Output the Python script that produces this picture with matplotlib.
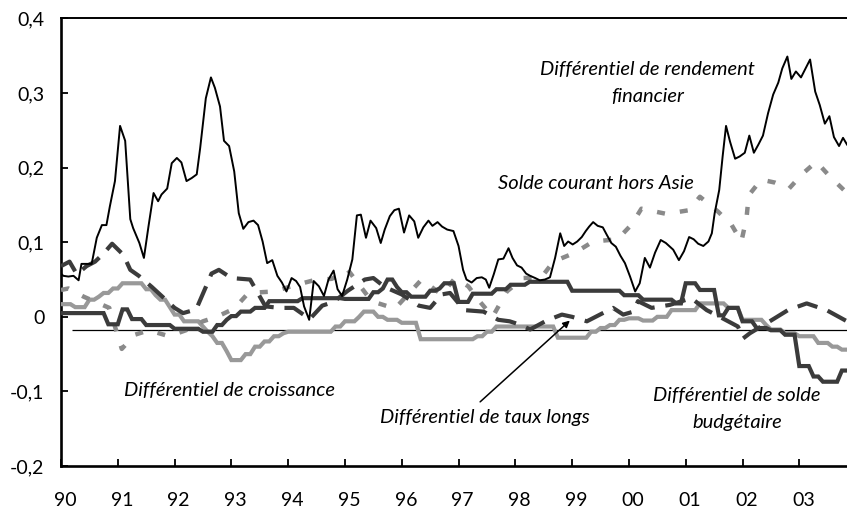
import numpy as np
import matplotlib
matplotlib.use("Agg")
import matplotlib.pyplot as plt
from matplotlib.transforms import ScaledTranslation

plt.rcParams['font.family'] = ['Lato', 'DejaVu Sans']

# ---------------- data ----------------
# Différentiel de rendement financier (monthly-ish vertices)
rend_x = [1990.00, 1990.04, 1990.13, 1990.22, 1990.31, 1990.36, 1990.54, 1990.63, 1990.72, 1990.80,
          1990.86, 1990.95, 1991.04, 1991.13, 1991.22, 1991.27, 1991.38, 1991.46, 1991.54, 1991.63,
          1991.71, 1991.77, 1991.87, 1991.95, 1992.04, 1992.12, 1992.21, 1992.30, 1992.39, 1992.45,
          1992.55, 1992.64, 1992.71, 1992.80, 1992.87, 1992.96, 1993.05, 1993.13, 1993.21, 1993.30,
          1993.39, 1993.47, 1993.55, 1993.63, 1993.72, 1993.81, 1993.89, 1993.97, 1994.06, 1994.14,
          1994.21, 1994.28, 1994.37, 1994.45, 1994.54, 1994.63, 1994.71, 1994.80, 1994.87, 1994.95,
          1995.04, 1995.13, 1995.21, 1995.28, 1995.37, 1995.45, 1995.55, 1995.63, 1995.70, 1995.79,
          1995.87, 1995.95, 1996.04, 1996.13, 1996.22, 1996.29, 1996.38, 1996.47, 1996.54, 1996.63,
          1996.71, 1996.80, 1996.91, 1997.00, 1997.08, 1997.14, 1997.23, 1997.32, 1997.41, 1997.48,
          1997.54, 1997.62, 1997.70, 1997.79, 1997.88, 1997.95, 1998.03, 1998.11, 1998.19, 1998.26,
          1998.35, 1998.43, 1998.52, 1998.61, 1998.70, 1998.79, 1998.86, 1998.93, 1999.01, 1999.09,
          1999.17, 1999.24, 1999.30, 1999.37, 1999.45, 1999.54, 1999.61, 1999.69, 1999.77, 1999.85,
          1999.93, 2000.02, 2000.11, 2000.19, 2000.28, 2000.37, 2000.46, 2000.56, 2000.65, 2000.78,
          2000.88, 2000.97, 2001.06, 2001.14, 2001.22, 2001.31, 2001.40, 2001.46, 2001.51, 2001.59,
          2001.65, 2001.71, 2001.78, 2001.87, 2001.95, 2002.04, 2002.12, 2002.20, 2002.28, 2002.36,
          2002.45, 2002.54, 2002.63, 2002.70, 2002.79, 2002.86, 2002.94, 2003.03, 2003.11, 2003.19,
          2003.28, 2003.36, 2003.45, 2003.53, 2003.61, 2003.70, 2003.77, 2003.84]
rend_y = [0.058, 0.055, 0.054, 0.055, 0.049, 0.071, 0.071, 0.106, 0.123, 0.123,
          0.148, 0.182, 0.256, 0.236, 0.131, 0.119, 0.099, 0.079, 0.121, 0.166,
          0.155, 0.164, 0.172, 0.206, 0.213, 0.207, 0.182, 0.186, 0.191, 0.226,
          0.293, 0.321, 0.307, 0.282, 0.236, 0.229, 0.195, 0.139, 0.118, 0.127,
          0.129, 0.123, 0.101, 0.072, 0.076, 0.055, 0.046, 0.034, 0.052, 0.048,
          0.040, 0.014, -0.004, 0.048, 0.041, 0.028, 0.050, 0.062, 0.037, 0.028,
          0.050, 0.077, 0.136, 0.137, 0.106, 0.129, 0.119, 0.099, 0.117, 0.135,
          0.143, 0.145, 0.113, 0.136, 0.128, 0.106, 0.120, 0.129, 0.122, 0.127,
          0.121, 0.117, 0.115, 0.095, 0.063, 0.050, 0.046, 0.052, 0.053, 0.050,
          0.039, 0.057, 0.077, 0.078, 0.092, 0.079, 0.069, 0.066, 0.058, 0.055,
          0.052, 0.049, 0.050, 0.053, 0.079, 0.112, 0.095, 0.101, 0.097, 0.101,
          0.107, 0.115, 0.121, 0.127, 0.122, 0.120, 0.110, 0.099, 0.094, 0.082,
          0.072, 0.054, 0.034, 0.045, 0.079, 0.066, 0.086, 0.103, 0.099, 0.090,
          0.076, 0.088, 0.107, 0.104, 0.098, 0.095, 0.101, 0.112, 0.139, 0.170,
          0.215, 0.256, 0.235, 0.212, 0.215, 0.220, 0.243, 0.220, 0.231, 0.243,
          0.273, 0.298, 0.314, 0.333, 0.349, 0.319, 0.329, 0.321, 0.333, 0.345,
          0.302, 0.284, 0.259, 0.269, 0.241, 0.229, 0.240, 0.231]

# Solde courant hors Asie
solde_x = [1990.00, 1990.13, 1990.40, 1990.85, 1991.07, 1991.30, 1991.55, 1991.90, 1992.20, 1992.50,
           1992.74, 1993.05, 1993.30, 1993.75, 1994.10, 1994.45, 1994.77, 1995.05, 1995.47, 1995.88,
           1996.35, 1996.70, 1996.94, 1997.17, 1997.38, 1997.60, 1997.85, 1998.14, 1998.46, 1998.67,
           1999.05, 1999.37, 1999.80, 2000.05, 2000.22, 2000.66, 2001.06, 2001.25, 2001.57, 2001.81,
           2001.98, 2002.07, 2002.11, 2002.33, 2002.57, 2002.82, 2003.06, 2003.30, 2003.54, 2003.84]
solde_y = [0.036, 0.038, 0.027, 0.012, -0.043, -0.024, -0.018, -0.026, -0.018, -0.006,
           0.000, 0.011, 0.032, 0.034, 0.042, 0.049, 0.051, 0.063, 0.021, 0.011,
           0.050, 0.030, 0.052, 0.041, 0.020, 0.000, 0.034, 0.052, 0.053, 0.074,
           0.086, 0.101, 0.104, 0.124, 0.145, 0.138, 0.143, 0.161, 0.141, 0.123,
           0.101, 0.132, 0.163, 0.184, 0.180, 0.172, 0.192, 0.208, 0.188, 0.166]

# Différentiel de taux longs
taux_x = [1990.00, 1990.15, 1990.28, 1990.45, 1990.60, 1990.75, 1990.90, 1991.10, 1991.22, 1991.37,
          1991.60, 1992.00, 1992.15, 1992.38, 1992.55, 1992.65, 1992.78, 1993.00, 1993.33, 1993.60,
          1993.85, 1994.10, 1994.38, 1994.60, 1994.80, 1995.05, 1995.35, 1995.50, 1995.70, 1996.00,
          1996.30, 1996.50, 1996.70, 1996.85, 1997.10, 1997.44, 1997.70, 1997.90, 1998.10, 1998.26,
          1998.55, 1998.82, 1999.00, 1999.26, 1999.49, 1999.72, 1999.90, 2000.08, 2000.16, 2000.40,
          2000.72, 2001.10, 2001.37, 2001.60, 2001.92, 2002.01, 2002.13, 2002.48, 2002.80, 2003.13,
          2003.48, 2003.84]
taux_y = [0.068, 0.074, 0.057, 0.068, 0.074, 0.085, 0.098, 0.083, 0.063, 0.055,
          0.040, 0.012, 0.005, 0.010, 0.040, 0.058, 0.063, 0.052, 0.050, 0.014,
          0.012, 0.012, -0.003, 0.015, 0.020, 0.035, 0.050, 0.052, 0.040, 0.030,
          0.015, 0.012, 0.030, 0.032, 0.009, 0.007, -0.004, -0.006, -0.011, -0.017,
          -0.005, 0.003, 0.000, -0.006, 0.003, 0.012, 0.003, 0.007, 0.021, 0.012,
          0.016, 0.025, 0.009, 0.000, -0.013, -0.029, -0.022, -0.006, 0.009, 0.018,
          0.009, -0.006]

# Différentiel de croissance (step levels: start date, level)
crois_start = [1990.00, 1990.25, 1990.45, 1990.60, 1990.75, 1990.90, 1991.05, 1991.50, 1991.63, 1991.75,
               1991.87, 1992.00, 1992.12, 1992.45, 1992.55, 1992.65, 1992.75, 1992.85, 1993.00, 1993.25,
               1993.40, 1993.55, 1993.70, 1993.87, 1994.00, 1994.80, 1995.00, 1995.20, 1995.30, 1995.55,
               1995.75, 1996.00, 1996.30, 1997.30, 1997.45, 1997.60, 1998.70, 1999.30, 1999.45, 1999.60,
               1999.80, 2000.00, 2000.25, 2000.45, 2000.70, 2001.25, 2001.75, 2002.00, 2002.35, 2002.50,
               2002.75, 2003.00, 2003.30, 2003.55, 2003.72]
crois_level = [0.017, 0.013, 0.023, 0.027, 0.032, 0.038, 0.045, 0.037, 0.029, 0.023,
               0.013, 0.003, -0.006, -0.013, -0.020, -0.026, -0.035, -0.046, -0.058, -0.050,
               -0.040, -0.033, -0.026, -0.022, -0.020, -0.013, -0.006, 0.000, 0.007, 0.000,
               -0.004, -0.008, -0.030, -0.026, -0.020, -0.013, -0.028, -0.020, -0.015, -0.011,
               -0.004, -0.002, -0.005, 0.000, 0.009, 0.018, 0.012, -0.004, -0.011, -0.017,
               -0.022, -0.026, -0.035, -0.040, -0.044]

# Différentiel de solde budgétaire (step levels: start date, level)
budg_start = [1990.00, 1990.78, 1991.02, 1991.25, 1991.42, 1992.00, 1992.50, 1992.72, 1992.85, 1993.00,
              1993.15, 1993.35, 1993.65, 1994.20, 1995.00, 1995.45, 1995.60, 1995.75, 1995.85, 1996.00,
              1996.10, 1996.45, 1996.65, 1996.75, 1996.95, 1997.22, 1997.60, 1997.90, 1998.20, 1999.00,
              1999.90, 2000.25, 2000.80, 2000.98, 2001.20, 2001.55, 2001.70, 2002.00, 2002.17, 2002.45,
              2002.75, 2003.00, 2003.20, 2003.35, 2003.72]
budg_level = [0.005, -0.010, 0.010, -0.003, -0.011, -0.016, -0.020, -0.011, -0.004, 0.001,
              0.007, 0.012, 0.021, 0.025, 0.024, 0.033, 0.038, 0.050, 0.040, 0.033,
              0.027, 0.035, 0.038, 0.045, 0.020, 0.031, 0.037, 0.043, 0.047, 0.035,
              0.029, 0.023, 0.018, 0.045, 0.036, 0.002, 0.012, -0.006, -0.015, -0.018,
              -0.024, -0.066, -0.080, -0.087, -0.072]

ref_level = -0.018
ref_start = 1990.2

ytick_vals = [-0.2, -0.1, 0.0, 0.1, 0.2, 0.3, 0.4]
ytick_labels = ['-0,2', '-0,1', '0', '0,1', '0,2', '0,3', '0,4']
xtick_vals = list(range(1990, 2004))
xtick_labels = ['90', '91', '92', '93', '94', '95', '96', '97', '98', '99', '00', '01', '02', '03']

x_min, x_max = 1990.0, 2003.84

# monthly expansion of step series (value repeated within each segment)
months = 1990 + np.arange(0, 167) / 12.0


def expand(starts, levels):
    idx = np.searchsorted(np.array(starts), months + 1e-6, side='right') - 1
    return np.array(levels)[idx]


crois_m = expand(crois_start, crois_level)
budg_m = expand(budg_start, budg_level)

# ---------------- figure ----------------
W, H = 847, 513
fig = plt.figure(figsize=(W / 100, H / 100), dpi=100)
ax = fig.add_axes([61 / W, 47 / H, 786 / W, 447.5 / H])
ax.set_xlim(x_min, x_max)
ax.set_ylim(-0.2, 0.4)

dark = '#3b3b3b'
light = '#999999'
dotc = '#8a8a8a'

ax.hlines(ref_level, ref_start, x_max, colors='black', lw=0.9, zorder=2)

ax.plot(months, crois_m, color=light, lw=3.0, zorder=3, solid_joinstyle='miter')
ax.plot(months, budg_m, color=dark, lw=3.0, zorder=4, solid_joinstyle='miter')
ax.plot(solde_x, solde_y, color=dotc, lw=3.2, linestyle=(0, (1.8, 3.4)), zorder=3)
ax.plot(taux_x, taux_y, color=dark, lw=3.0, linestyle=(0, (5.0, 2.6)), zorder=4)
ax.plot(rend_x, rend_y, color='black', lw=1.4, zorder=5)

# spines
for s in ['left', 'bottom']:
    ax.spines[s].set_linewidth(1.9)
ax.spines['top'].set_linewidth(1.4)
ax.spines['right'].set_visible(False)

ax.set_yticks(ytick_vals)
ax.set_yticklabels(ytick_labels)
ax.set_xticks(xtick_vals)
ax.set_xticklabels(xtick_labels)
ax.tick_params(axis='y', direction='in', length=5, width=1.3, pad=12, labelsize=14)
ax.tick_params(axis='x', direction='in', length=5, width=1.3, pad=19, labelsize=14)
for lab in ax.get_xticklabels():
    lab.set_transform(lab.get_transform() + ScaledTranslation(0.04, 0, fig.dpi_scale_trans))

# annotations
tfs = 14.5
kw = dict(style='italic', fontsize=tfs, ha='center', va='center')
ax.text(2000.33, 0.332, 'Différentiel de rendement', **kw)
ax.text(2000.33, 0.296, 'financier', **kw)
ax.text(1999.42, 0.179, 'Solde courant hors Asie', **kw)
ax.text(1992.97, -0.099, 'Différentiel de croissance', **kw)
ax.text(1997.46, -0.135, 'Différentiel de taux longs', **kw)
ax.text(2001.90, -0.106, 'Différentiel de solde', **kw)
ax.text(2001.90, -0.142, 'budgétaire', **kw)

ax.annotate('', xy=(1998.96, -0.005), xytext=(1997.38, -0.114),
            arrowprops=dict(arrowstyle='-|>', lw=1.1, color='black', mutation_scale=10,
                            shrinkA=0, shrinkB=0))

fig.savefig('out.png', dpi=100)
